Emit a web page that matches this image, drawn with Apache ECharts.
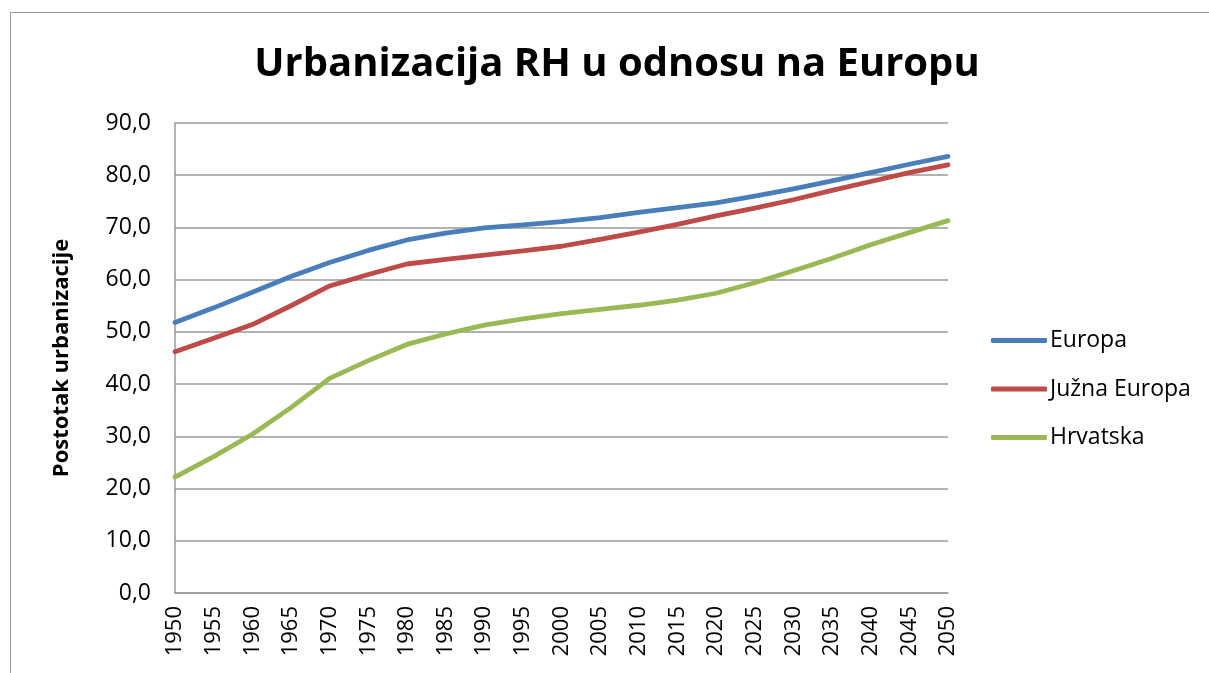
<!DOCTYPE html>
<html>
<head>
<meta charset="utf-8">
<script src="https://cdn.jsdelivr.net/npm/echarts@6/dist/echarts.min.js"></script>
<style>
  html, body { margin: 0; padding: 0; background: #fff; }
  .frame {
    position: absolute;
    left: 10px;
    top: 12px;
    width: 1260px;
    height: 720px;
    border: 1.5px solid #999;
    box-sizing: border-box;
  }
  #chart { position: absolute; left: 0; top: 0; width: 1209px; height: 673px; }
</style>
</head>
<body>
<div class="frame"></div>
<div id="chart"></div>
<script>
const years = ['1950', '1955', '1960', '1965', '1970', '1975', '1980', '1985', '1990', '1995', '2000',
  '2005', '2010', '2015', '2020', '2025', '2030', '2035', '2040', '2045', '2050'];

const europa = [51.8, 54.6, 57.6, 60.6, 63.3, 65.6, 67.6, 68.9, 69.9, 70.5, 71.1,
  71.9, 72.9, 73.8, 74.7, 76.0, 77.4, 78.9, 80.5, 82.1, 83.6];
const juznaEuropa = [46.2, 48.8, 51.4, 55.0, 58.8, 61.0, 63.0, 63.9, 64.7, 65.5, 66.4,
  67.7, 69.1, 70.6, 72.2, 73.7, 75.3, 77.1, 78.8, 80.5, 82.0];
const hrvatska = [22.2, 26.1, 30.4, 35.5, 41.1, 44.5, 47.6, 49.6, 51.3, 52.5, 53.5,
  54.3, 55.1, 56.1, 57.4, 59.4, 61.7, 64.1, 66.7, 69.0, 71.3];

const seriesNames = ['Europa', 'Južna Europa', 'Hrvatska'];
const colors = ['#4a7ebb', '#be4b48', '#98b954'];

const font = '"Open Sans", "Liberation Sans", sans-serif';

const myChart = echarts.init(document.getElementById('chart'), null, { renderer: 'canvas' });

function makeSeries(name, data, color) {
  return {
    name: name,
    type: 'line',
    data: data,
    symbol: 'none',
    smooth: false,
    lineStyle: { width: 4.8, color: color, cap: 'round', join: 'round' },
    itemStyle: { color: color }
  };
}

const option = {
  animation: false,
  title: {
    text: 'Urbanizacija RH u odnosu na Europu',
    left: 612,
    textAlign: 'center',
    top: 40,
    textStyle: {
      fontFamily: font,
      fontWeight: 'bold',
      fontSize: 40,
      color: '#000'
    }
  },
  legend: {
    orient: 'vertical',
    left: 986,
    top: 324,
    itemWidth: 56,
    itemHeight: 5,
    itemGap: 25.5,
    icon: 'roundRect',
    data: seriesNames,
    textStyle: { fontFamily: font, fontSize: 23, color: '#000', padding: [0, 0, 0, -2] }
  },
  grid: {
    left: 175,
    right: 1209 - 948,
    top: 123,
    bottom: 673 - 593,
    containLabel: false
  },
  xAxis: {
    type: 'category',
    boundaryGap: false,
    data: years,
    axisLine: { lineStyle: { color: '#999', width: 1.5 } },
    axisTick: { show: false },
    axisLabel: {
      rotate: 90,
      margin: 13,
      interval: 0,
      fontFamily: font,
      fontSize: 22,
      color: '#000'
    }
  },
  yAxis: {
    type: 'value',
    min: 0,
    max: 90,
    interval: 10,
    name: 'Postotak urbanizacije',
    nameLocation: 'middle',
    nameGap: 102,
    nameTextStyle: { fontFamily: font, fontWeight: 'bold', fontSize: 22, color: '#000' },
    axisLine: { show: true, lineStyle: { color: '#999', width: 1.5 } },
    axisTick: { show: false },
    splitLine: { lineStyle: { color: '#999', width: 1.5 } },
    axisLabel: {
      margin: 24,
      fontFamily: font,
      fontSize: 23,
      color: '#000',
      formatter: function (v) { return v.toFixed(1).replace('.', ','); }
    }
  },
  series: [
    makeSeries(seriesNames[0], europa, colors[0]),
    makeSeries(seriesNames[1], juznaEuropa, colors[1]),
    makeSeries(seriesNames[2], hrvatska, colors[2])
  ]
};

myChart.setOption(option);
</script>
</body>
</html>
